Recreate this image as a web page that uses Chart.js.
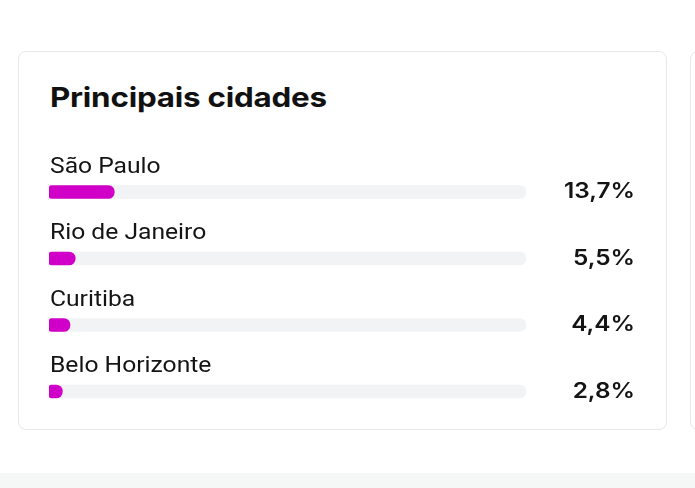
<!DOCTYPE html>
<html><head><meta charset="utf-8">
<script src="https://cdn.jsdelivr.net/npm/chart.js@4"></script>
<style>
html,body{margin:0;padding:0;background:#fff;width:695px;height:488px;overflow:hidden;position:relative;font-family:Roboto,sans-serif;}
.card{position:absolute;left:18px;top:51px;width:647px;height:377px;border:1.5px solid #e7e8e8;border-radius:8px;background:#fff;}
.card2{position:absolute;left:690px;top:51px;width:100px;height:377px;border:1.5px solid #e7e8e8;border-radius:8px;background:#fff;}
.strip{position:absolute;left:0;top:473px;width:695px;height:15px;background:#f5f7f7;}
.title{position:absolute;left:50px;top:79px;font-family:Inter,sans-serif;font-weight:700;font-size:27.5px;color:#111;letter-spacing:-0.2px;line-height:36px;transform:scaleX(1.14);transform-origin:0 0;white-space:nowrap;}
canvas{position:absolute;left:0;top:0;}
</style></head>
<body>
<div class="card"></div>
<div class="card2"></div>
<div class="strip"></div>
<div class="title">Principais cidades</div>
<canvas id="c" width="695" height="488"></canvas>
<script>
const cities = ["São Paulo", "Rio de Janeiro", "Curitiba", "Belo Horizonte"];
const shares = [13.7, 5.5, 4.4, 2.8];
const trackMax = [100, 100, 100, 100];
const valueLabels = ["13,7%", "5,5%", "4,4%", "2,8%"];

const textPlugin = {
  id: 'rowText',
  afterDatasetsDraw(chart) {
    const ctx = chart.ctx;
    const ys = chart.scales.y;
    cities.forEach((c, i) => {
      const yc = ys.getPixelForValue(i);
      ctx.save();
      ctx.fillStyle = '#141414';
      ctx.font = '400 22px Roboto';
      ctx.textAlign = 'left';
      ctx.textBaseline = 'alphabetic';
      ctx.translate(50, yc - 19.5);
      ctx.scale(1.12, 1);
      ctx.fillText(c, 0, 0);
      ctx.restore();
      ctx.save();
      ctx.fillStyle = '#141414';
      ctx.font = '600 21px Inter';
      ctx.textAlign = 'right';
      ctx.textBaseline = 'alphabetic';
      ctx.translate(635, yc + 6);
      ctx.scale(1.16, 1);
      ctx.fillText(valueLabels[i], 0, 0);
      ctx.restore();
    });
  }
};

new Chart(document.getElementById('c'), {
  type: 'bar',
  data: {
    labels: cities,
    datasets: [
      { data: shares, backgroundColor: '#d000c8', barThickness: 13,
        borderRadius: {topLeft: 3, bottomLeft: 3, topRight: 7, bottomRight: 7}, borderSkipped: false, order: 0 },
      { data: trackMax, backgroundColor: '#f2f3f5', barThickness: 13,
        borderRadius: 7, borderSkipped: false, order: 1 }
    ]
  },
  options: {
    indexAxis: 'y',
    responsive: false,
    animation: false,
    events: [],
    layout: { padding: { left: 49, right: 169, top: 158.75, bottom: 63.25 } },
    scales: {
      x: { display: false, min: 0, max: 100 },
      y: { display: false, grid: { display: false } }
    },
    datasets: { bar: { grouped: false } },
    plugins: { legend: { display: false }, tooltip: { enabled: false }, title: { display: false } }
  },
  plugins: [textPlugin]
});
</script>
</body></html>
